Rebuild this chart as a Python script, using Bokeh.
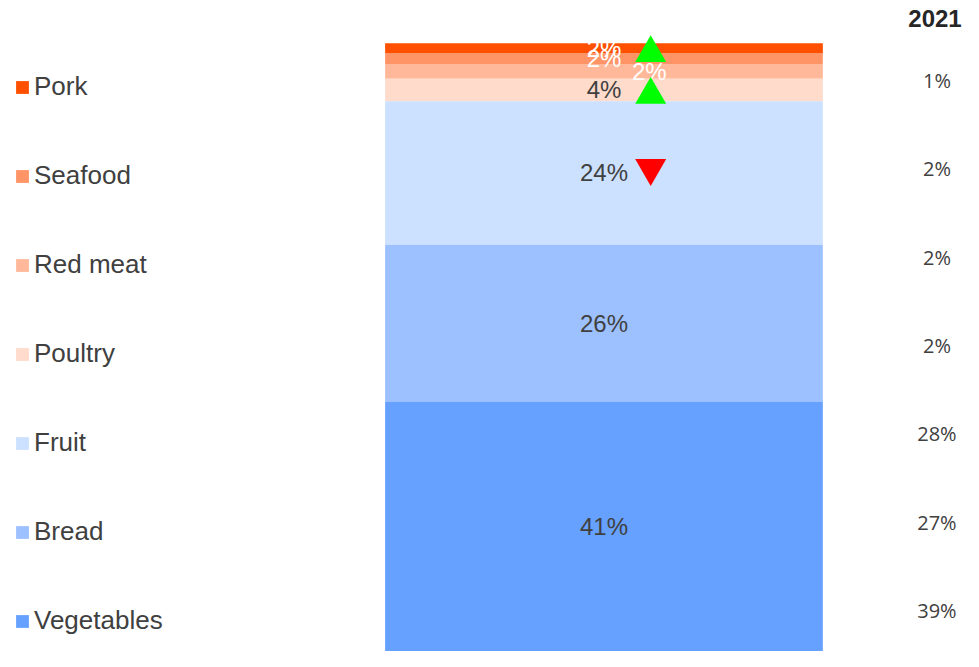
import numpy as np
from bokeh.plotting import figure
from bokeh.models import ColumnDataSource, Range1d, Legend, LegendItem, Label
from bokeh.embed import file_html
from bokeh.resources import INLINE
from bokeh.core.properties import value

# ---------------- data ----------------
categories = ["Pork", "Seafood", "Red meat", "Poultry", "Fruit", "Bread", "Vegetables"]
share_now = [1.6, 1.8, 2.4, 3.7, 23.6, 25.8, 41.1]
labels_now = ["2%", "2%", "2%", "4%", "24%", "26%", "41%"]
labels_2021 = ["1%", "2%", "2%", "2%", "28%", "27%", "39%"]
header_2021 = "2021"
change = ["up", None, None, "up", "down", None, None]

# ---------------- style / layout ----------------
colors = ["#FF5000", "#FF9466", "#FFB899", "#FFDBCC", "#CCE0FF", "#9DC0FF", "#66A1FF"]
label_colors = ["#FFFFFF", "#FFFFFF", "#FFFFFF", "#404040", "#404040", "#404040", "#404040"]
label_dx = [0, 0, 46, 0, 0, 0, 0]
TEXT = "#404040"
W, H = 963, 651
REF_W = 979
Y_TOP = 107.05          # headroom above the 100 % stack
PX_PER_PCT = H / Y_TOP
BAR_X, BAR_W = 613.5, 445
TRI_X, TRI_SIZE, TRI_NUDGE_PX = 661, 31, 4.9

vals = np.array(share_now)
tops = np.array([vals[i:].sum() for i in range(len(vals))])
bottoms = tops - vals
mids = (tops + bottoms) / 2

p = figure(width=W, height=H, output_backend="svg", toolbar_location=None,
           x_axis_type=None, y_axis_type=None, min_border=0,
           x_range=Range1d(0, REF_W), y_range=Range1d(0, Y_TOP))
p.grid.visible = False
p.outline_line_color = None
p.background_fill_color = "white"

# rows scale for the 2021 column (row 0 = Pork at top)
p.extra_y_ranges = {"rows": Range1d(start=6.464, end=-0.906)}

src = ColumnDataSource(dict(cat=categories, top=tops, bottom=bottoms, mid=mids,
                            color=colors, lab=labels_now, lab_color=label_colors,
                            lab_x=[BAR_X + d for d in label_dx],
                            x=[BAR_X] * len(categories),
                            old=labels_2021, row=list(range(len(categories)))))

bar = p.vbar(x="x", width=BAR_W, bottom="bottom", top="top", fill_color="color",
             line_color=None, source=src)

p.text(x="lab_x", y="mid", text="lab", source=src, text_color="lab_color",
       text_font=value("Liberation Sans"), text_font_size="24px",
       text_align="center", text_baseline="middle")

# change markers
up_idx = [i for i, c in enumerate(change) if c == "up"]
dn_idx = [i for i, c in enumerate(change) if c == "down"]
nudge = TRI_NUDGE_PX / PX_PER_PCT
p.scatter(x=[TRI_X] * len(up_idx), y=[mids[i] - nudge for i in up_idx],
          marker="triangle", size=TRI_SIZE, fill_color="#00FF00", line_color=None)
p.scatter(x=[TRI_X] * len(dn_idx), y=[mids[i] + nudge for i in dn_idx],
          marker="inverted_triangle", size=TRI_SIZE, fill_color="#FF0000", line_color=None)

# 2021 column
p.text(x=952, y="row", text="old", source=src, y_range_name="rows",
       text_color=TEXT, text_font=value("Open Sans"), text_font_size="20px",
       text_align="center", text_baseline="middle")
p.add_layout(Label(x=950, y=-0.70, y_range_name="rows", text=header_2021,
                   text_font="Liberation Sans", text_font_style="bold",
                   text_font_size="24px", text_color="#262626",
                   text_align="center", text_baseline="middle"))

legend = Legend(items=[LegendItem(label=categories[i], renderers=[bar], index=i)
                       for i in range(len(categories))],
                location=(14, 15), orientation="vertical",
                glyph_width=16, glyph_height=16, label_height=26, spacing=58,
                label_standoff=4, padding=0, margin=0,
                border_line_alpha=0, background_fill_alpha=0,
                label_text_font="Liberation Sans", label_text_font_size="26px",
                label_text_color=TEXT)
p.add_layout(legend)

open("out.html", "w").write(file_html(p, INLINE))
